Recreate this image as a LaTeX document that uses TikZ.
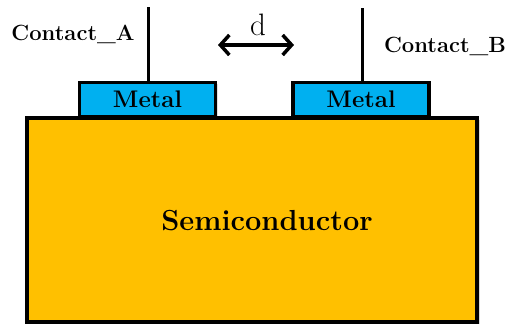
\documentclass[tikz,border=0pt]{standalone}
\definecolor{semic}{HTML}{FFC000}
\definecolor{metalc}{HTML}{00B0F0}
\usetikzlibrary{arrows.meta,positioning,shadows}

\begin{document}
\begin{tikzpicture}[x=1pt,y=-1pt,every node/.style={font=\bfseries}]
\tikzstyle{metal}=[draw,line width=3.5pt,fill=metalc,minimum width=136pt,minimum height=34pt,inner sep=0pt,font=\fontsize{24}{26}\selectfont\bfseries,drop shadow={shadow xshift=2pt,shadow yshift=-2pt,opacity=0.25}]
\tikzstyle{contact}=[font=\fontsize{22}{24}\selectfont\bfseries]
\tikzstyle{wire}=[line width=3pt]
\useasboundingbox (0,0) rectangle (509,328);
% metal pads
\node[metal] (metalA) at (147.5,99.5) {\raisebox{-2pt}{Metal}};
\node[metal] (metalB) at (361,99.5) {\raisebox{-4pt}{Metal}};
% substrate
\node[draw,line width=4.5pt,fill=semic,minimum width=450pt,minimum height=204pt,drop shadow={shadow xshift=2.5pt,shadow yshift=-2.5pt,opacity=0.3}] (semi) at (252,220) {};
\node[font=\fontsize{29}{32}\selectfont\bfseries] (semilabel) at (267,221) {Semiconductor};
% wires and labels
\coordinate (topA) at (148,7);
\coordinate (topB) at (362,8);
\draw[wire] (metalA.north -| topA) -- (topA);
\draw[wire] (metalB.north -| topB) -- (topB);
\node[contact] (contA) at (73,34) {Contact\_A};
\node[contact] (contB) at (445,46) {Contact\_B};
% spacing d
\coordinate (dL) at (218,45);
\coordinate (dR) at (294,45);
\draw[{Straight Barb[length=9pt,width=20pt,line width=3.5pt]}-{Straight Barb[length=9pt,width=20pt,line width=3.5pt]},line width=3.5pt] (dL) -- (dR);
\node[font=\fontsize{31}{34}\selectfont\mdseries] (dlabel) at (258,25) {d};
\end{tikzpicture}
\end{document}
